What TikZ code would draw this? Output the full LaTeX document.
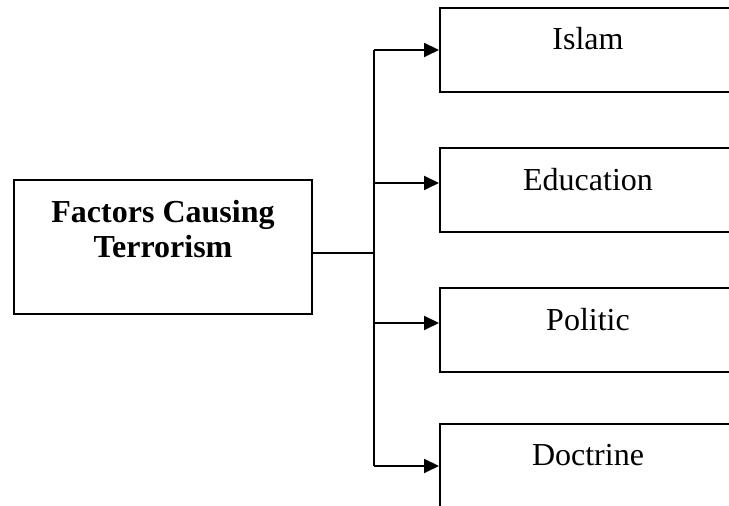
\documentclass[tikz,border=0pt]{standalone}
\usepackage{fontspec}
\setmainfont{Liberation Serif}
\usetikzlibrary{arrows.meta}

\tikzset{
  causebox/.style={draw, line width=1pt, minimum width=149pt, minimum height=67pt,
    align=center, font=\fontsize{16}{17.5}\selectfont\bfseries,
    text height=28.5pt, text depth=17.5pt},
  factorbox/.style={draw, line width=1pt, minimum width=148pt, minimum height=42pt,
    font=\fontsize{16}{17.5}\selectfont, text height=11pt, text depth=11pt},
  trunkline/.style={line width=1pt},
  branch/.style={line width=1pt, -{Triangle[length=7.5pt,width=7pt]}}
}

\begin{document}
\begin{tikzpicture}[x=0.5pt, y=-0.5pt]
        \clip (0,0) rectangle (729,506);
        \useasboundingbox (0,0) rectangle (729,506);
        % boxes
        \node[causebox] (cause) at (163,247) {Factors Causing\\Terrorism};
        \node[factorbox] (islam) at (588,50) {Islam};
        \node[factorbox] (education) at (588,190.5) {Education};
        \node[factorbox] (politic) at (588,330.5) {Politic};
        \node[factorbox] (doctrine) at (588,466) {Doctrine};
        % connectors
        \coordinate (trunk) at (374,253);
        \coordinate (top) at (374,50);
        \coordinate (edu) at (374,183);
        \coordinate (pol) at (374,323);
        \coordinate (bottom) at (374,466);
        \draw[trunkline] (cause.east |- trunk) -- (trunk);
        \draw[trunkline] (top) -- (bottom);
        \draw[branch] (top) -- (islam.west);
        \draw[branch] (edu) -- (edu -| education.west);
        \draw[branch] (pol) -- (pol -| politic.west);
        \draw[branch] (bottom) -- (doctrine.west);
    \end{tikzpicture}
\end{document}
